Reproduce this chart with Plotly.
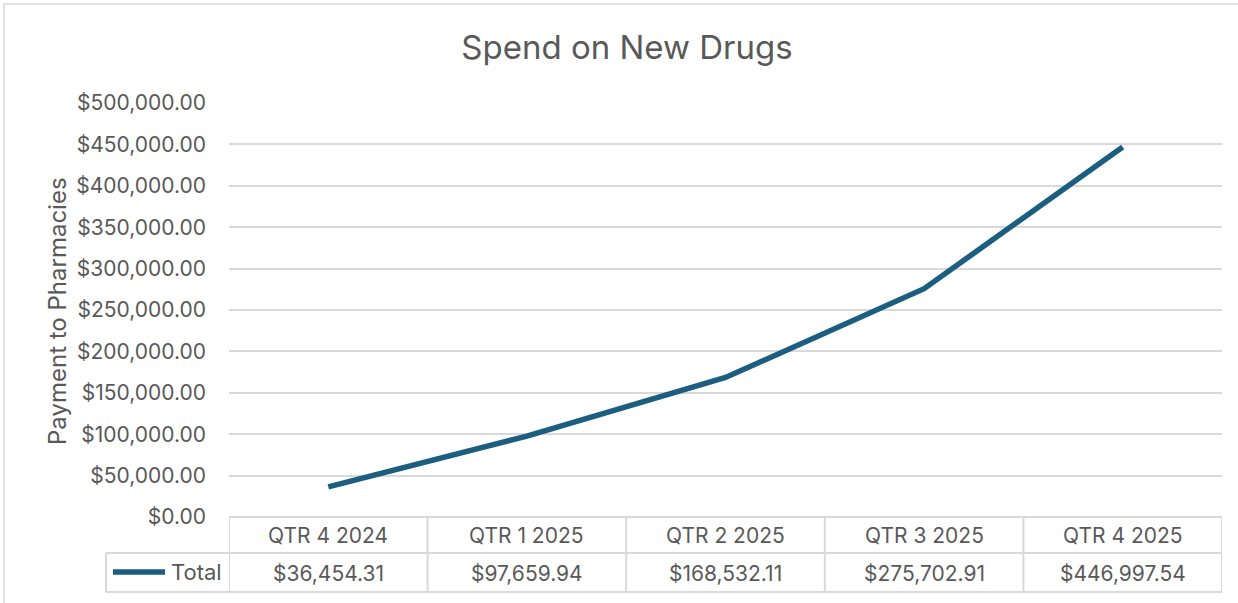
import plotly.graph_objects as go

# Quarterly spend on new drugs
quarters = ["QTR 4 2024", "QTR 1 2025", "QTR 2 2025", "QTR 3 2025", "QTR 4 2025"]
totals = [36454.31, 97659.94, 168532.11, 275702.91, 446997.54]
series_name = "Total"
y_ticks = [0, 50000, 100000, 150000, 200000, 250000, 300000, 350000, 400000, 450000, 500000]

W, H = 1238, 603
L, R, T, B = 229, 1222, 103, 517  # plot area in pixels
LINE_COLOR = "#1b5e80"
GRID = "#d9d9d9"
TEXT = "#595959"
FONT = "Inter"


def px_x(px):
    return (px - L) / (R - L)


def px_y(py):
    return (B - py) / (B - T)


n = len(quarters)
xs = list(range(n))

fig = go.Figure()
fig.add_trace(go.Scatter(
    x=xs, y=totals, mode="lines", name=series_name,
    line=dict(color=LINE_COLOR, width=5.5), showlegend=False,
    hoverinfo="y",
))

shapes = []
# outer chart border
shapes.append(dict(type="rect", xref="paper", yref="paper",
                   x0=px_x(4), x1=px_x(1240), y0=px_y(606), y1=px_y(4),
                   line=dict(color=GRID, width=1.5), layer="below"))

# data table grid
row1, row2, row3 = B, 553, 592
for yy, x0 in [(row1, L), (row2, 106), (row3, 106)]:
    shapes.append(dict(type="line", xref="paper", yref="paper",
                       x0=px_x(x0), x1=1, y0=px_y(yy), y1=px_y(yy),
                       line=dict(color=GRID, width=2)))
shapes.append(dict(type="line", xref="paper", yref="paper",
                   x0=px_x(106), x1=px_x(106), y0=px_y(row2), y1=px_y(row3),
                   line=dict(color=GRID, width=2)))
for i in range(n + 1):
    shapes.append(dict(type="line", xref="x", yref="paper",
                       x0=i - 0.5, x1=i - 0.5, y0=px_y(row1), y1=px_y(row3),
                       line=dict(color=GRID, width=2)))
# legend key
shapes.append(dict(type="line", xref="paper", yref="paper",
                   x0=px_x(113), x1=px_x(165), y0=px_y(572), y1=px_y(572),
                   line=dict(color=LINE_COLOR, width=5.5)))

cell_font = dict(size=21, color=TEXT, family=FONT)
annotations = []
for i, (q, v) in enumerate(zip(quarters, totals)):
    annotations.append(dict(x=i, xref="x", y=px_y(535), yref="paper",
                            text=q, showarrow=False,
                            xanchor="center", yanchor="middle", font=cell_font))
    annotations.append(dict(x=i, xref="x", y=px_y(573), yref="paper",
                            text=f"${v:,.2f}", showarrow=False,
                            xanchor="center", yanchor="middle", font=cell_font))
annotations.append(dict(x=px_x(169), xref="paper", y=px_y(572), yref="paper",
                        text=series_name, showarrow=False,
                        xanchor="left", yanchor="middle",
                        font=dict(size=22, color=TEXT, family=FONT)))
annotations.append(dict(x=px_x(57), xref="paper", y=px_y(311), yref="paper",
                        text="Payment to Pharmacies", showarrow=False,
                        textangle=-90, xanchor="center", yanchor="middle",
                        font=dict(size=24, color=TEXT, family=FONT)))

fig.update_layout(
    width=W, height=H,
    margin=dict(l=L, r=W - R, t=T, b=H - B, pad=0),
    paper_bgcolor="white", plot_bgcolor="white",
    title=dict(text="Spend on New Drugs", x=627 / W, xref="container",
               xanchor="center", y=1 - 47 / H, yanchor="middle",
               font=dict(size=33, color=TEXT, family=FONT)),
    font=dict(family=FONT, color=TEXT),
    xaxis=dict(range=[-0.5, n - 0.5], showticklabels=False, showgrid=False,
               zeroline=False, showline=False, fixedrange=True),
    yaxis=dict(range=[0, 500000], tickvals=y_ticks, tickformat="$,.2f",
               showgrid=True, gridcolor=GRID, gridwidth=1.5, zeroline=False,
               showline=False, ticklabelstandoff=22,
               tickfont=dict(size=21, color=TEXT, family=FONT)),
    shapes=shapes,
    annotations=annotations,
    showlegend=False,
)

fig.write_html("out.html")
